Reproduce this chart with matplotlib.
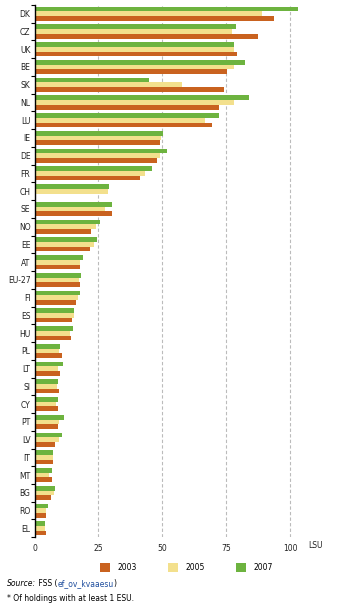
import numpy as np
import matplotlib
matplotlib.use("Agg")
import matplotlib.pyplot as plt

# Countries (top to bottom) and values in LSU per holding
countries = ["DK", "CZ", "UK", "BE", "SK", "NL", "LU", "IE", "DE", "FR",
             "CH", "SE", "NO", "EE", "AT", "EU-27", "FI", "ES", "HU", "PL",
             "LT", "SI", "CY", "PT", "LV", "IT", "MT", "BG", "RO", "EL"]
v2003 = [93.8, 87.5, 79.3, 75.4, 74.2, 72.3, 69.5, 49.2, 48.0, 41.3,
         0, 30.4, 22.1, 21.7, 17.8, 17.8, 16.3, 14.7, 14.3, 10.8,
         10.0, 9.6, 9.2, 9.2, 8.0, 7.2, 6.9, 6.5, 4.5, 4.5]
v2005 = [89.1, 77.4, 78.1, 78.1, 57.8, 78.1, 66.8, 49.6, 49.2, 43.3,
         28.8, 27.6, 24.1, 23.3, 17.8, 17.4, 17.0, 15.5, 13.9, 9.6,
         9.2, 8.8, 8.4, 9.6, 9.6, 7.2, 5.7, 7.6, 4.5, 4.1]
v2007 = [103.2, 78.9, 78.1, 82.4, 44.8, 84.0, 72.3, 50.3, 51.8, 46.0,
         29.2, 30.4, 25.7, 24.5, 19.0, 18.2, 17.8, 15.5, 15.1, 10.0,
         11.2, 9.2, 9.2, 11.6, 10.8, 7.2, 6.9, 8.0, 5.3, 4.1]
years = ["2003", "2005", "2007"]
colors = ["#C9621F", "#F3E08D", "#6DB33F"]

fig = plt.figure(figsize=(3.42, 6.05), dpi=100)
ax = fig.add_axes([0.101, 0.112, 0.777, 0.880])

n = len(countries)
y = np.arange(n)
h = 0.265
for vals, off, col, lab in zip([v2003, v2005, v2007], [h, 0, -h], colors, years):
    ax.barh(y + off, vals, height=h, color=col, label=lab, zorder=3)

ax.set_ylim(n - 0.5, -0.5)
ax.set_xlim(0, 104)
ax.set_yticks(y)
ax.set_yticklabels(countries, fontsize=5.5, color="#222222")
ax.set_yticks(np.arange(n + 1) - 0.5, minor=True)
ax.tick_params(axis="y", which="major", length=0, pad=3)
ax.tick_params(axis="y", which="minor", length=3, width=0.8, color="black", direction="out")
ax.set_xticks([0, 25, 50, 75, 100])
ax.set_xticklabels(["0", "25", "50", "75", "100"], fontsize=5.5, color="#222222")
ax.tick_params(axis="x", length=0, pad=5)
ax.xaxis.grid(True, linestyle=(0, (3, 2)), color="#BBBBBB", linewidth=0.8, zorder=0)
for s in ["top", "right", "bottom"]:
    ax.spines[s].set_visible(False)
ax.spines["left"].set_linewidth(1.0)
ax.spines["left"].set_zorder(4)

fig.text(0.922, 0.098, "LSU", fontsize=5.5, ha="center", va="center", color="#222222")

fig.legend(loc="center", bbox_to_anchor=(0.545, 0.062), ncol=3, frameon=False,
           fontsize=5.5, handlelength=1.3, handleheight=1.3, columnspacing=4.1,
           handletextpad=1.0)

t1 = fig.text(0.02, 0.036, "Source:", fontsize=5.5, style="italic", va="center")
t2 = ax.annotate(" FSS (", xy=(1, 0.5), xycoords=t1, fontsize=5.5, va="center")
t3 = ax.annotate("ef_ov_kvaaesu", xy=(1, 0.5), xycoords=t2, fontsize=5.5,
                 va="center", color="#1F4E9E")
ax.annotate(")", xy=(1, 0.5), xycoords=t3, fontsize=5.5, va="center")
fig.text(0.02, 0.011, "* Of holdings with at least 1 ESU.", fontsize=5.5, va="center")

fig.savefig("out.png", dpi=100)
